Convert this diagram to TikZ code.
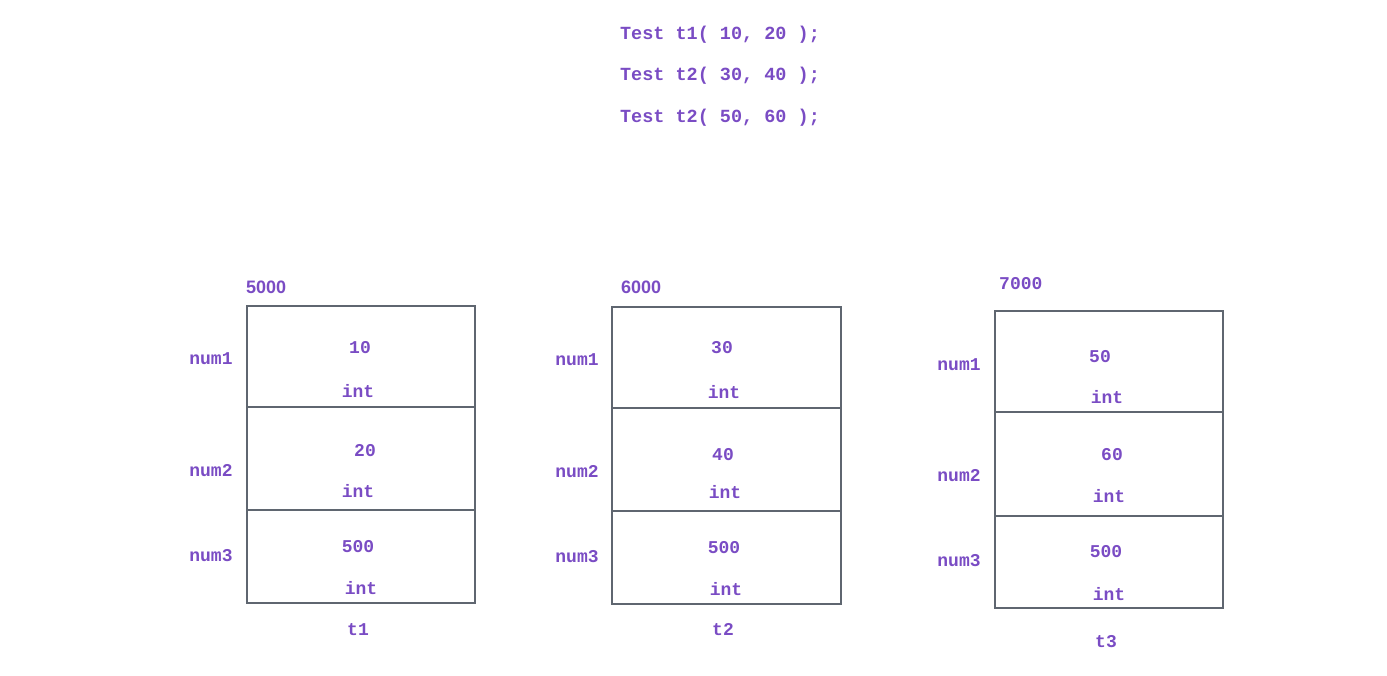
\documentclass[tikz,border=0pt]{standalone}
\usepackage{fontspec}
\setmonofont{Liberation Mono}
\setsansfont{Liberation Sans}
\definecolor{txt}{HTML}{7A4CC4}
\definecolor{boxc}{HTML}{5F6670}
\begin{document}
\begin{tikzpicture}[x=1pt,y=-1pt,
  code/.style={font=\fontsize{18.5}{20}\selectfont\ttfamily\bfseries, text=txt, inner sep=0pt},
  lbl/.style={font=\fontsize{18}{20}\selectfont\ttfamily\bfseries, text=txt, inner sep=0pt},
  addr/.style={font=\fontsize{18}{19}\selectfont\sffamily\bfseries, text=txt, inner sep=0pt, anchor=west},
  addrm/.style={font=\fontsize{18}{19}\selectfont\ttfamily\bfseries, text=txt, inner sep=0pt, anchor=west},
  cell/.style={draw=boxc, line width=2pt, inner sep=0pt}]
\useasboundingbox[fill=white] (0,0) rectangle (1387,676);
% code lines
\node[code] (c1) at (720,35) {Test t1( 10, 20 );};
\node[code] (c2) at (720,76) {Test t2( 30, 40 );};
\node[code] (c3) at (720,118) {Test t2( 50, 60 );};
% ---- t1
\node[cell, minimum width=228pt, minimum height=101pt] (a1) at (361,356.5) {};
\node[cell, minimum width=228pt, minimum height=103pt] (a2) at (361,458.5) {};
\node[cell, minimum width=228pt, minimum height=93pt] (a3) at (361,556.5) {};
\node[addr] (ad1) at (246,287) {5000};
\node[lbl] (n11) at (211,359) {num1};
\node[lbl] (n12) at (211,471) {num2};
\node[lbl] (n13) at (211,556) {num3};
\node[lbl] (v11) at (360,348) {10};
\node[lbl] (i11) at (358,391) {int};
\node[lbl] (v12) at (365,451) {20};
\node[lbl] (i12) at (358,491) {int};
\node[lbl] (v13) at (358,547) {500};
\node[lbl] (i13) at (361,588) {int};
\node[lbl] (t1) at (358,630) {t1};
% ---- t2
\node[cell, minimum width=229pt, minimum height=101pt] (b1) at (726.5,357.5) {};
\node[cell, minimum width=229pt, minimum height=103pt] (b2) at (726.5,459.5) {};
\node[cell, minimum width=229pt, minimum height=93pt] (b3) at (726.5,557.5) {};
\node[addr] (ad2) at (621,287) {6000};
\node[lbl] (n21) at (577,360) {num1};
\node[lbl] (n22) at (577,472) {num2};
\node[lbl] (n23) at (577,557) {num3};
\node[lbl] (v21) at (722,348) {30};
\node[lbl] (i21) at (724,392) {int};
\node[lbl] (v22) at (723,455) {40};
\node[lbl] (i22) at (725,492) {int};
\node[lbl] (v23) at (724,548) {500};
\node[lbl] (i23) at (726,589) {int};
\node[lbl] (t2) at (723,630) {t2};
% ---- t3
\node[cell, minimum width=228pt, minimum height=101pt] (d1) at (1109,361.5) {};
\node[cell, minimum width=228pt, minimum height=104pt] (d2) at (1109,464) {};
\node[cell, minimum width=228pt, minimum height=92pt] (d3) at (1109,562) {};
\node[addrm] (ad3) at (999,284) {7000};
\node[lbl] (n31) at (959,365) {num1};
\node[lbl] (n32) at (959,476) {num2};
\node[lbl] (n33) at (959,561) {num3};
\node[lbl] (v31) at (1100,357) {50};
\node[lbl] (i31) at (1107,397) {int};
\node[lbl] (v32) at (1112,455) {60};
\node[lbl] (i32) at (1109,496) {int};
\node[lbl] (v33) at (1106,552) {500};
\node[lbl] (i33) at (1109,594) {int};
\node[lbl] (t3) at (1106,642) {t3};
\end{tikzpicture}
\end{document}
